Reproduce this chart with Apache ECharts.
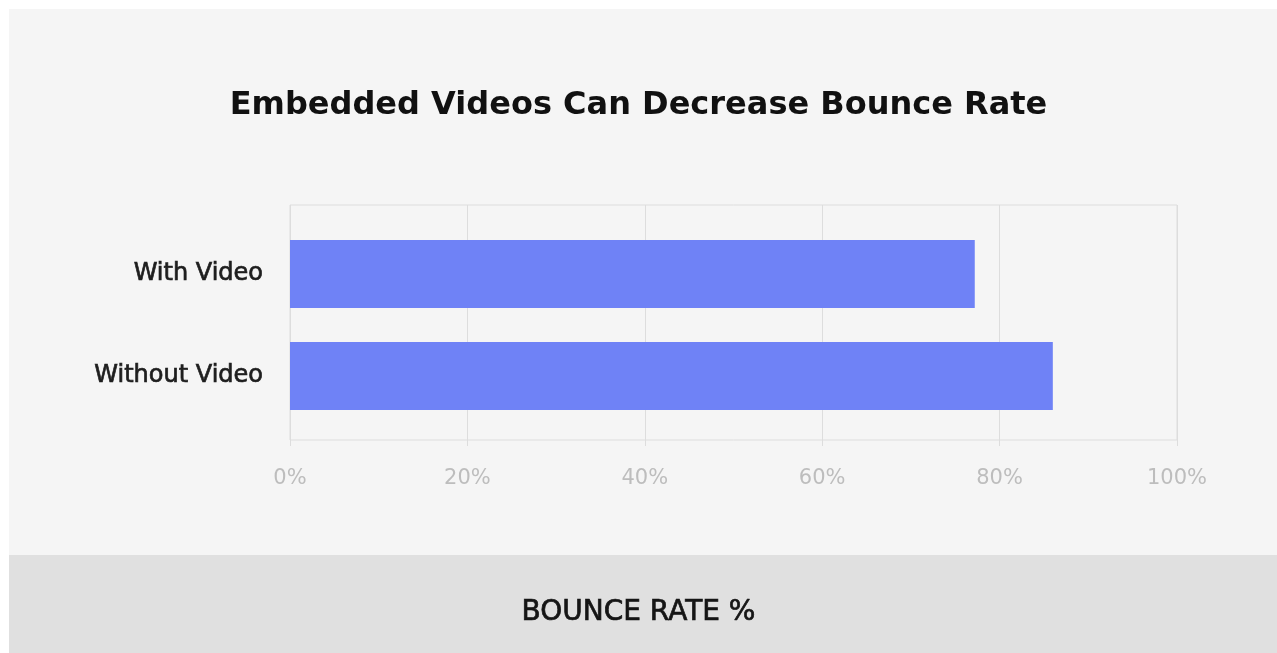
<!DOCTYPE html>
<html>
<head>
<meta charset="utf-8">
<script src="https://cdn.jsdelivr.net/npm/echarts@6/dist/echarts.min.js"></script>
<style>
  html, body { margin: 0; padding: 0; background: #ffffff; }
  #chart { width: 1277px; height: 653px; }
</style>
</head>
<body>
<div id="chart"></div>
<script>
// Bounce rate by page type (percent)
const categories = ['With Video', 'Without Video'];
const bounceRate = [77.2, 86];
const xTicks = [0, 20, 40, 60, 80, 100];

const titleText = 'Embedded Videos Can Decrease Bounce Rate';
const axisTitle = 'BOUNCE RATE %';

const chart = echarts.init(document.getElementById('chart'));

const gridLeft = 290, gridRight = 100;
const FONT = '"DejaVu Sans", sans-serif';

chart.setOption({
  backgroundColor: '#ffffff',
  animation: false,
  graphic: [
    { type: 'rect', z: -10, shape: { x: 9, y: 9, width: 1268, height: 546 }, style: { fill: '#f5f5f5' } },
    { type: 'rect', z: -10, shape: { x: 9, y: 555, width: 1268, height: 98 }, style: { fill: '#e0e0e0' } },
    {
      type: 'text', left: 'center', top: 598,
      style: { text: axisTitle, font: '28px ' + FONT, fill: '#151515', stroke: '#151515', lineWidth: 0.7 }
    }
  ],
  title: {
    text: titleText,
    left: 'center',
    top: 85,
    textStyle: { fontFamily: 'DejaVu Sans', fontWeight: 'bold', fontSize: 32, color: '#111111' }
  },
  grid: [
    // frame, vertical gridlines and percent labels
    { left: gridLeft, right: gridRight, top: 205, bottom: 213, show: true, borderColor: '#dddddd', borderWidth: 1, backgroundColor: 'transparent' },
    // bars and category labels
    { left: gridLeft, right: gridRight, top: 223, bottom: 226 }
  ],
  xAxis: [
    {
      gridIndex: 0, type: 'value', min: xTicks[0], max: xTicks[xTicks.length - 1], interval: 20,
      axisLine: { show: false },
      axisTick: { show: true, length: 6, lineStyle: { color: '#dddddd' } },
      splitLine: { show: true, lineStyle: { color: '#dddddd', width: 1 } },
      axisLabel: { formatter: '{value}%', color: '#bdbdbd', fontSize: 21, fontFamily: 'DejaVu Sans', margin: 28 }
    },
    {
      gridIndex: 1, type: 'value', min: xTicks[0], max: xTicks[xTicks.length - 1], interval: 20,
      show: false
    }
  ],
  yAxis: [
    { gridIndex: 0, type: 'category', data: categories, inverse: true, show: false },
    {
      gridIndex: 1, type: 'category', data: categories, inverse: true,
      axisLine: { show: false }, axisTick: { show: false },
      axisLabel: {
        color: '#1e1e1e', fontSize: 24, fontFamily: 'DejaVu Sans', margin: 27,
        textBorderColor: '#1e1e1e', textBorderWidth: 0.7
      }
    }
  ],
  series: [{
    type: 'bar',
    xAxisIndex: 1,
    yAxisIndex: 1,
    data: bounceRate,
    barWidth: 68,
    itemStyle: { color: '#6f82f6' },
    silent: true
  }]
});
</script>
</body>
</html>
